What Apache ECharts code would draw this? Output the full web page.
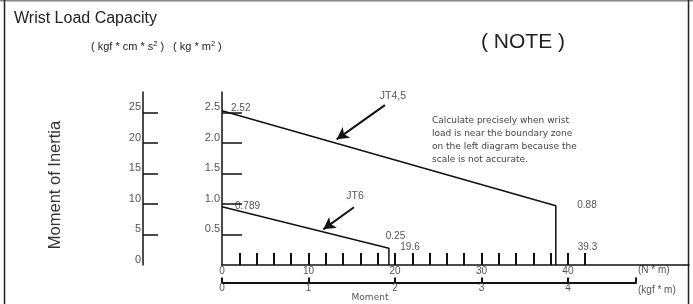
<!DOCTYPE html>
<html>
<head>
<meta charset="utf-8">
<script src="https://cdn.jsdelivr.net/npm/echarts@6/dist/echarts.min.js"></script>
<style>
  html, body { margin: 0; padding: 0; background: #fff; }
  #chart { width: 693px; height: 304px; }
</style>
</head>
<body>
<div id="chart"></div>
<script>
// values (x in N*m, y in kg*m^2)
const jt45Line = [[0, 2.53], [38.6, 0.97], [38.6, 0]];
const jt6Line = [[0, 0.956], [19.3, 0.274], [19.3, 0]];
const jt45Arrow = [[18.84, 2.62], [13.26, 2.06]];
const jt6Arrow = [[15.26, 0.946], [11.71, 0.585]];

const yTicksKgm = [0.5, 1.0, 1.5, 2.0, 2.5];
const yLabelsKgm = [0.5, 1.0, 1.5, 2.0, 2.5];
const yTicksKgfcms = [5, 10, 15, 20, 25];
const yLabelsKgfcms = [0, 5, 10, 15, 20, 25];
const xTicksNm = [2, 4, 6, 8, 10, 12, 14, 16, 18, 20, 22, 24, 26, 28, 30, 32, 34, 36, 38, 40, 42];
const xLabelsNm = [0, 10, 20, 30, 40];
const xTicksKgfm = [0, 1, 2, 3, 4, 4.787];
const xLabelsKgfm = [0, 1, 2, 3, 4];

const pointLabels = ['2.52', '0.789', '0.25', '19.6', '0.88', '39.3'];
const noteLines = [
  'Calculate precisely when wrist',
  'load is near the boundary zone',
  'on the left diagram because the',
  'scale is not accurate.'
];

const ink = '#111';
const grey = '#555';
const font = "'Liberation Sans', Arial, sans-serif";

const chart = echarts.init(document.getElementById('chart'));

function txt(x, y, s, size, opts) {
  return {
    type: 'text', x: x, y: y, silent: true,
    style: Object.assign({
      text: s, fill: grey, fontSize: size, fontFamily: font,
      align: 'center', verticalAlign: 'middle'
    }, opts || {})
  };
}

const supStyle = { fontSize: 7.5, fontFamily: font, verticalAlign: 'top', lineHeight: 10, fill: '#222' };

const option = {
  animation: false,
  backgroundColor: '#fff',
  grid: [
    { left: 222, right: 4, top: 92, bottom: 39 },
    { left: 222, width: 414, bottom: 21.5, height: 1 }
  ],
  xAxis: [
    {
      type: 'value', gridIndex: 0, min: 0, max: 54,
      splitLine: { show: false },
      axisLine: { lineStyle: { color: ink, width: 1.5 } },
      axisTick: { inside: true, length: 12, customValues: xTicksNm, lineStyle: { color: ink, width: 2 } },
      axisLabel: { customValues: xLabelsNm, margin: 1, color: grey, fontSize: 10, fontFamily: font }
    },
    {
      type: 'value', gridIndex: 1, min: 0, max: 4.787,
      splitLine: { show: false },
      axisLine: { lineStyle: { color: ink, width: 2 } },
      axisTick: { inside: true, length: 5, customValues: xTicksKgfm, lineStyle: { color: ink, width: 2 } },
      axisLabel: { customValues: xLabelsKgfm, margin: 1, color: grey, fontSize: 10, fontFamily: font }
    }
  ],
  yAxis: [
    {
      type: 'value', gridIndex: 0, min: 0, max: 2.836,
      splitLine: { show: false },
      axisLine: { show: true, lineStyle: { color: ink, width: 1.5 } },
      axisTick: { inside: true, length: 20, customValues: yTicksKgm, lineStyle: { color: ink, width: 1.5 } },
      axisLabel: {
        customValues: yLabelsKgm, margin: 2, color: grey, fontSize: 11, fontFamily: font,
        verticalAlign: 'bottom',
        formatter: v => v.toFixed(1)
      }
    },
    {
      type: 'value', gridIndex: 0, min: 0, max: 28.36, position: 'left', offset: 79,
      splitLine: { show: false },
      axisLine: { show: true, lineStyle: { color: ink, width: 1.5 } },
      axisTick: { inside: true, length: 15, customValues: yTicksKgfcms, lineStyle: { color: ink, width: 1.5 } },
      axisLabel: {
        customValues: yLabelsKgfcms, margin: 2, color: grey, fontSize: 11, fontFamily: font,
        verticalAlign: 'bottom'
      }
    },
    { type: 'value', gridIndex: 1, show: false, min: 0, max: 1 }
  ],
  series: [
    {
      name: 'JT4,5', type: 'line', xAxisIndex: 0, yAxisIndex: 0,
      data: jt45Line, symbol: 'none', silent: true,
      lineStyle: { color: ink, width: 1.5 },
      markLine: {
        silent: true, symbol: ['none', 'arrow'], symbolSize: [10, 12],
        lineStyle: { color: ink, width: 2, type: 'solid' }, label: { show: false },
        data: [[{ coord: jt45Arrow[0] }, { coord: jt45Arrow[1] }]]
      }
    },
    {
      name: 'JT6', type: 'line', xAxisIndex: 0, yAxisIndex: 0,
      data: jt6Line, symbol: 'none', silent: true,
      lineStyle: { color: ink, width: 1.5 },
      markLine: {
        silent: true, symbol: ['none', 'arrow'], symbolSize: [10, 12],
        lineStyle: { color: ink, width: 2, type: 'solid' }, label: { show: false },
        data: [[{ coord: jt6Arrow[0] }, { coord: jt6Arrow[1] }]]
      }
    }
  ],
  graphic: [
    // frame
    { type: 'line', silent: true, shape: { x1: 0, y1: 0.75, x2: 693, y2: 0.75 }, style: { stroke: '#888', lineWidth: 1.5 } },
    { type: 'line', silent: true, shape: { x1: 4.5, y1: 0, x2: 4.5, y2: 304 }, style: { stroke: '#222', lineWidth: 1.5 } },
    { type: 'line', silent: true, shape: { x1: 688.5, y1: 0, x2: 688.5, y2: 304 }, style: { stroke: '#222', lineWidth: 1.5 } },

    txt(14, 18.5, 'Wrist Load Capacity', 16, { align: 'left', fill: '#222' }),
    {
      type: 'text', x: 91, y: 46.5, silent: true,
      style: {
        text: '( kgf * cm * s{sup|2} )', fontSize: 11, fontFamily: font, fill: '#222',
        verticalAlign: 'middle', lineHeight: 14, rich: { sup: supStyle }
      }
    },
    {
      type: 'text', x: 173, y: 46.5, silent: true,
      style: {
        text: '( kg * m{sup|2} )', fontSize: 11, fontFamily: font, fill: '#222',
        verticalAlign: 'middle', lineHeight: 14, rich: { sup: supStyle }
      }
    },
    txt(523, 42, '( NOTE )', 21, { fill: '#222' }),
    {
      type: 'text', x: 55, y: 185, rotation: Math.PI / 2, silent: true,
      style: { text: 'Moment of Inertia', fontSize: 16.5, fontFamily: font, fill: '#333', align: 'center', verticalAlign: 'middle' }
    },

    txt(393, 96.5, 'JT4,5', 10.5),
    txt(355, 196, 'JT6', 10.5),
    txt(231, 108, pointLabels[0], 10, { align: 'left' }),
    txt(235, 206, pointLabels[1], 10, { align: 'left' }),
    txt(395.5, 236.5, pointLabels[2], 10),
    txt(410, 247, pointLabels[3], 10),
    txt(587, 205.5, pointLabels[4], 10),
    txt(587.5, 247, pointLabels[5], 10),

    {
      type: 'text', x: 432, y: 114.5, silent: true,
      style: { text: noteLines.join('\n'), fontSize: 9, fontFamily: 'DejaVu Sans, sans-serif', fill: '#444', lineHeight: 13, align: 'left', verticalAlign: 'top' }
    },

    txt(638, 270.5, '(N * m)', 10, { align: 'left' }),
    txt(638, 290, '(kgf * m)', 10, { align: 'left' }),
    txt(370, 298, 'Moment', 9, { fontFamily: 'DejaVu Sans, sans-serif' })
  ]
};

chart.setOption(option);
</script>
</body>
</html>
